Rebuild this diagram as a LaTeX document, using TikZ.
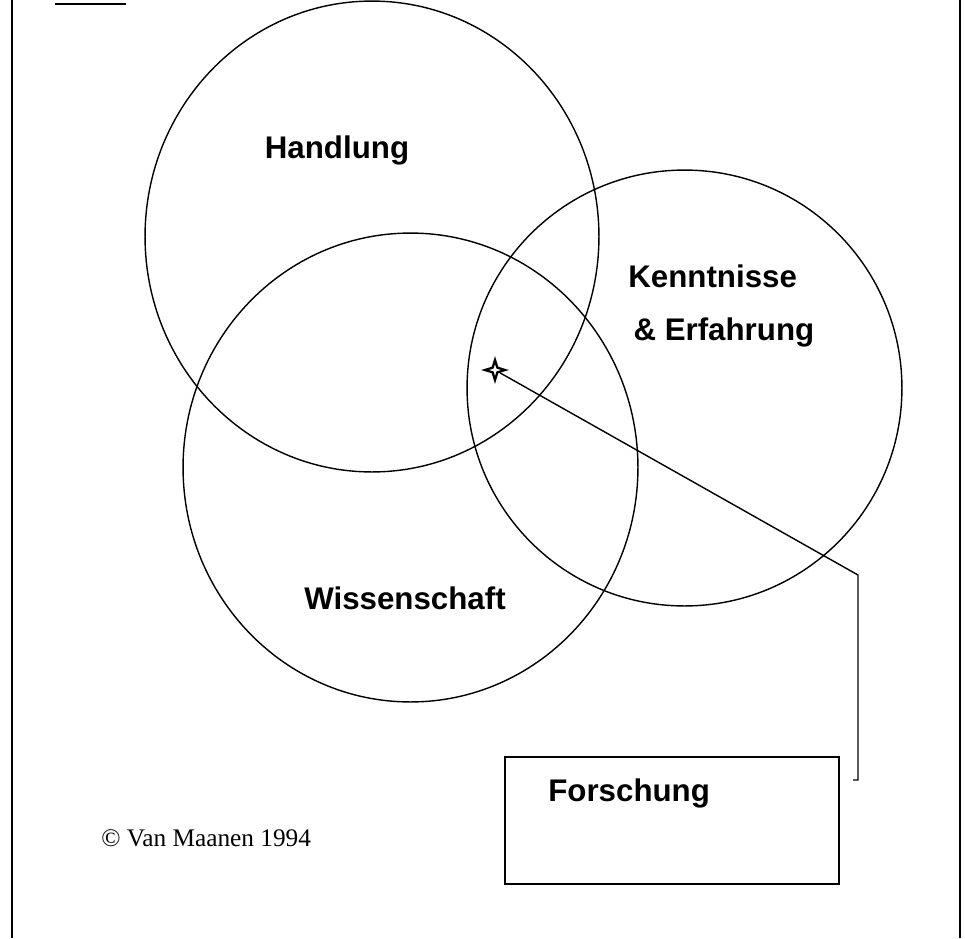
\documentclass[tikz,border=0pt]{standalone}
\usepackage{fontspec}
\setmainfont{Liberation Serif}
\newfontfamily\headfont{Liberation Sans}
\usetikzlibrary{shapes.geometric}

\begin{document}
\begin{tikzpicture}[x=0.02cm,y=-0.02cm]
\tikzset{
  ring/.style={ellipse,draw=black,line width=0.8pt,inner sep=0pt},
  headtext/.style={font=\headfont\bfseries\fontsize{17.8}{30.7}\selectfont,inner sep=0pt,align=left},
  copytext/.style={font=\fontsize{14.4}{17}\selectfont,inner sep=0pt},
  boxnode/.style={rectangle,draw=black,line width=0.9pt,minimum width=6.68cm,minimum height=2.54cm,inner sep=0pt},
  marker/.style={star,star points=4,star point ratio=3,draw=black,fill=white,line width=1.3pt,minimum size=0.40cm,inner sep=0pt},
  connector/.style={draw=black,line width=0.8pt,line join=miter},
  frameline/.style={draw=black,line width=0.9pt}
}
\useasboundingbox (0,0) rectangle (965,938);
\draw[frameline] (12,0) -- (12,938);
\draw[frameline] (960,0) -- (960,938);
\draw[line width=1.4pt] (55,4) -- (126,4);
\node[ring,minimum width=9.08cm,minimum height=9.42cm] (c_handlung) at (372,236.5) {};
\node[ring,minimum width=9.10cm,minimum height=9.38cm] (c_wissen) at (410.5,467.5) {};
\node[ring,minimum width=8.70cm,minimum height=8.72cm] (c_kenntnis) at (684.5,388) {};
\node[headtext] (n_handlung) at (337,150) {Handlung};
\node[headtext,anchor=west] (n_kenntnis) at (628,306) {Kenntnisse\\ \,\& Erfahrung};
\node[headtext] (n_wissen) at (405,598) {Wissenschaft};
\node[boxnode] (n_box) at (672,820.5) {};
\node[headtext,anchor=west] (n_forschung) at (548,793) {Forschung};
\node[copytext,anchor=west] (n_copyright) at (101,838) {\textcopyright\ Van Maanen 1994};
\node[marker] (n_marker) at (495,370) {};
\coordinate (p_knick) at (858,575);
\coordinate (p_ende) at (858,780);
\coordinate (p_haken) at (853,780);
\draw[connector] (n_marker) -- (p_knick) -- (p_ende) -- (p_haken);
\end{tikzpicture}
\end{document}
